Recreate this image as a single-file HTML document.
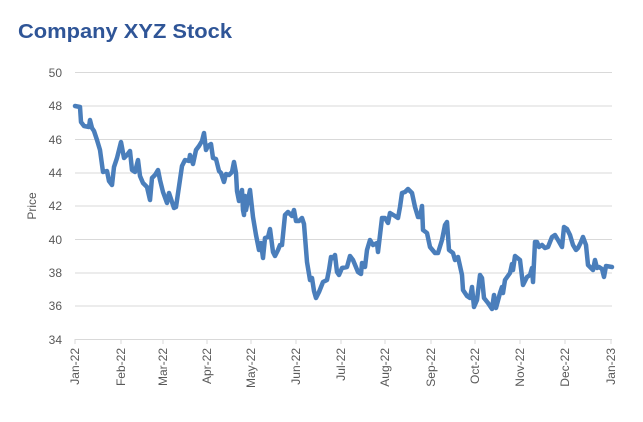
<!DOCTYPE html>
<html><head><style>
body{margin:0;background:#fff;width:643px;height:417px;overflow:hidden}
</style></head><body>
<svg width="643" height="417" xmlns="http://www.w3.org/2000/svg" font-family="Liberation Sans, sans-serif">
<text x="18" y="38" font-size="20" font-weight="bold" fill="#2f5597" textLength="214" lengthAdjust="spacingAndGlyphs">Company XYZ Stock</text>
<g stroke="#d9d9d9" stroke-width="1">
<line x1="75" x2="612" y1="72.5" y2="72.5"/><line x1="75" x2="612" y1="106" y2="106"/>
<line x1="75" x2="612" y1="139.5" y2="139.5"/><line x1="75" x2="612" y1="173" y2="173"/>
<line x1="75" x2="612" y1="206" y2="206"/><line x1="75" x2="612" y1="239.5" y2="239.5"/>
<line x1="75" x2="612" y1="273" y2="273"/><line x1="75" x2="612" y1="306" y2="306"/>
<line x1="75" x2="612" y1="339.5" y2="339.5"/>
<line x1="75" x2="75" y1="339" y2="344"/><line x1="121" x2="121" y1="339" y2="344"/>
<line x1="163" x2="163" y1="339" y2="344"/><line x1="207" x2="207" y1="339" y2="344"/>
<line x1="251" x2="251" y1="339" y2="344"/><line x1="296" x2="296" y1="339" y2="344"/>
<line x1="341" x2="341" y1="339" y2="344"/><line x1="385" x2="385" y1="339" y2="344"/>
<line x1="431" x2="431" y1="339" y2="344"/><line x1="475" x2="475" y1="339" y2="344"/>
<line x1="520" x2="520" y1="339" y2="344"/><line x1="565" x2="565" y1="339" y2="344"/>
<line x1="611" x2="611" y1="339" y2="344"/>
</g>
<g font-size="12" fill="#595959" text-anchor="end">
<text x="62" y="77">50</text><text x="62" y="110">48</text><text x="62" y="144">46</text>
<text x="62" y="177">44</text><text x="62" y="210">42</text><text x="62" y="244">40</text>
<text x="62" y="277">38</text><text x="62" y="310">36</text><text x="62" y="344">34</text>
</g>
<text transform="translate(36,206) rotate(-90)" font-size="12" fill="#595959" text-anchor="middle">Price</text>
<g font-size="12" fill="#595959" text-anchor="end">
<text transform="translate(79,348) rotate(-90)">Jan-22</text>
<text transform="translate(125,348) rotate(-90)">Feb-22</text>
<text transform="translate(167,348) rotate(-90)">Mar-22</text>
<text transform="translate(211,348) rotate(-90)">Apr-22</text>
<text transform="translate(255,348) rotate(-90)">May-22</text>
<text transform="translate(300,348) rotate(-90)">Jun-22</text>
<text transform="translate(345,348) rotate(-90)">Jul-22</text>
<text transform="translate(389,348) rotate(-90)">Aug-22</text>
<text transform="translate(435,348) rotate(-90)">Sep-22</text>
<text transform="translate(479,348) rotate(-90)">Oct-22</text>
<text transform="translate(524,348) rotate(-90)">Nov-22</text>
<text transform="translate(569,348) rotate(-90)">Dec-22</text>
<text transform="translate(615,348) rotate(-90)">Jan-23</text>
</g>
<polyline fill="none" stroke="#4a7ebb" stroke-width="4.5" stroke-linejoin="round" stroke-linecap="round" points="
75,106 80,107 81,122 84,126 89,127 90,120 92,128 94,131 97,140 100,150 103,172 107,171 109,181 112,185 114,167 117,158 121,142 124,158 127,155 130,151 132,170 135,172 138,160 140,176 143,183 147,187 150,200 152,178 155,175 158,170 160,180 163,192 167,203 169,193 172,202 174,208 176,207 182,166 185,160 189,161 190,155 193,164 196,150 199,146 202,141 204,133 206,150 208,146 211,144 213,158 216,159 219,171 221,173 224,182 226,174 229,175 232,172 234,162 236,173 237,191 239,201 242,190 243,210 244,215 245,196 246,210 248,200 250,190 253,217 256,235 259,250 261,243 263,258 265,238 268,237 270,229 273,252 275,256 278,250 280,245 282,245 285,215 288,212 292,216 294,210 296,221 299,221 302,218 304,224 307,262 310,280 312,278 314,291 316,298 319,292 323,282 327,280 329,270 331,257 333,258 335,255 337,272 339,275 342,268 347,267 350,256 353,260 358,272 361,274 362,263 365,267 367,250 370,240 373,245 377,243 378,252 382,218 385,218 388,223 390,213 395,216 398,218 400,207 402,193 405,192 408,189 412,193 415,207 418,217 420,217 422,206 423,230 427,233 430,247 435,253 438,253 442,240 445,225 447,222 449,250 453,253 455,260 458,257 462,275 463,290 467,296 470,298 472,287 474,307 477,300 480,275 482,278 484,298 488,303 492,309 494,295 496,308 500,293 502,287 503,293 505,280 510,273 512,264 513,270 515,256 520,260 523,285 527,277 530,275 532,268 533,282 535,242 537,242 539,247 542,245 545,248 548,247 552,237 555,235 558,240 562,247 564,227 567,229 570,235 573,245 576,250 578,248 581,242 583,237 586,245 588,265 593,270 595,260 597,268 599,267 602,269 604,277 606,266 612,267"/>
</svg>
</body></html>
